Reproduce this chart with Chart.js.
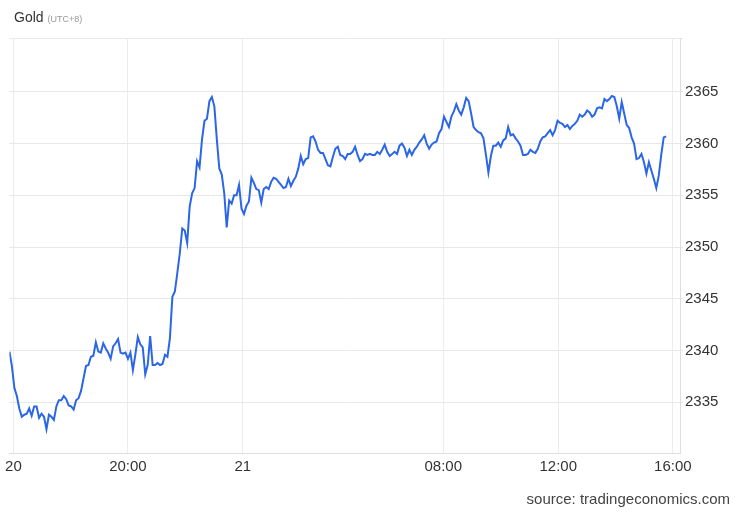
<!DOCTYPE html>
<html>
<head>
<meta charset="utf-8">
<script src="https://cdn.jsdelivr.net/npm/chart.js@4.4.1/dist/chart.umd.min.js"></script>
<style>
    body { margin: 0; background: #fff; font-family: 'Liberation Sans', Arial, sans-serif; }
    #wrap { position: relative; width: 740px; height: 513px; }
    #title { position: absolute; left: 14px; top: 9px; font-size: 14px; color: #333; }
    #title small { font-size: 9px; color: #999; }
    #source { position: absolute; right: 10px; top: 490px; font-size: 15px; color: #444; }
</style>
</head>
<body>
<div id="wrap">
    <canvas id="goldChart" width="740" height="513"></canvas>
    <div id="title">Gold <small>(UTC+8)</small></div>
    <div id="source">source: tradingeconomics.com</div>
</div>
<script>
// gia vang theo thu tu thoi gian (doc tu hinh)
const goldPrices = [
    2339.9, 2338.5, 2336.4, 2335.6, 2334.4, 2333.6, 2333.8, 2333.9, 2334.4, 2333.7,
    2334.6, 2334.6, 2333.5, 2333.9, 2333.6, 2332.4, 2333.8, 2333.6, 2333.3, 2334.6,
    2335.2, 2335.2, 2335.6, 2335.3, 2334.7, 2334.6, 2334.3, 2335.2, 2335.4, 2336.1,
    2337.3, 2338.5, 2338.6, 2339.4, 2339.5, 2340.8, 2339.9, 2339.8, 2340.7, 2340.2,
    2339.8, 2339.2, 2340.4, 2340.7, 2341.1, 2339.8, 2339.7, 2339.8, 2339.2, 2339.8,
    2338.1, 2339.6, 2341.3, 2340.6, 2340.3, 2337.7, 2338.6, 2341.4, 2338.6, 2338.6,
    2338.8, 2338.6, 2338.7, 2339.6, 2339.4, 2341.2, 2345.2, 2345.7, 2347.5, 2349.4,
    2351.8, 2351.6, 2350.4, 2353.9, 2355.2, 2355.7, 2358.3, 2357.7, 2360.4, 2362.2,
    2362.4, 2364.1, 2364.5, 2363.6, 2360.4, 2357.6, 2357.0, 2355.2, 2351.9, 2354.5,
    2354.2, 2355.0, 2355.0, 2356.0, 2353.7, 2353.2, 2354.0, 2354.4, 2356.7, 2356.2,
    2355.6, 2355.5, 2354.3, 2355.6, 2355.8, 2355.6, 2356.3, 2356.7, 2356.6, 2356.3,
    2356.0, 2355.7, 2355.8, 2356.6, 2355.9, 2356.4, 2356.8, 2357.6, 2358.8, 2358.0,
    2358.5, 2358.6, 2360.6, 2360.7, 2360.2, 2359.4, 2359.1, 2359.1, 2358.5, 2357.9,
    2357.8, 2358.7, 2359.5, 2359.7, 2358.9, 2358.8, 2358.5, 2359.0, 2359.0, 2359.2,
    2359.7, 2358.9, 2358.3, 2358.5, 2359.0, 2358.9, 2359.0, 2358.9, 2358.9, 2359.2,
    2359.0, 2359.4, 2359.9, 2359.2, 2358.8, 2359.0, 2359.2, 2359.0, 2359.8, 2360.0,
    2359.6, 2358.8, 2359.4, 2358.9, 2359.4, 2359.7, 2360.1, 2360.4, 2360.8, 2360.0,
    2359.5, 2359.9, 2360.1, 2360.2, 2361.0, 2361.4, 2362.6, 2362.1, 2361.6, 2362.6,
    2363.1, 2363.8, 2363.2, 2362.8, 2363.5, 2364.4, 2364.1, 2362.9, 2361.6, 2361.3,
    2361.1, 2361.0, 2360.5, 2358.9, 2357.2, 2358.8, 2359.8, 2359.8, 2360.1, 2359.7,
    2360.3, 2360.5, 2361.6, 2360.8, 2360.9, 2360.5, 2360.2, 2359.8, 2358.9, 2358.9,
    2359.0, 2359.4, 2359.2, 2359.1, 2359.5, 2360.2, 2360.6, 2360.7, 2361.0, 2361.3,
    2360.8, 2361.3, 2362.2, 2362.0, 2361.9, 2361.6, 2361.8, 2361.4, 2361.7, 2361.9,
    2362.2, 2362.8, 2362.6, 2362.8, 2363.2, 2363.0, 2362.6, 2362.8, 2363.4, 2363.5,
    2363.4, 2364.3, 2364.1, 2364.3, 2364.6, 2364.5, 2363.6, 2362.4, 2364.0, 2362.9,
    2361.8, 2361.5, 2360.6, 2360.0, 2358.5, 2358.6, 2359.0, 2358.2, 2357.1, 2358.2,
    2357.4, 2356.6, 2355.7, 2356.9, 2358.9, 2360.6, 2360.7
];

// vi tri cac moc thoi gian tren truc x (theo so thu tu diem)
const xTickIdx = [1.6, 48, 94.5, 175.7, 222.3, 268.7];
const xTickLabels = ['20', '20:00', '21', '08:00', '12:00', '16:00'];
const xMax = 271.6;

const yTicks = [2335, 2340, 2345, 2350, 2355, 2360, 2365];
const yMin = 2330.1;
const yMax = 2370.2;

const ctx = document.getElementById('goldChart').getContext('2d');

new Chart(ctx, {
    type: 'line',
    data: {
        datasets: [{
            label: 'Gold',
            data: goldPrices.map((v, i) => ({ x: i, y: v })),
            borderColor: '#2b66e6',
            borderWidth: 2,
            pointRadius: 0,
            tension: 0,
            fill: false
        }]
    },
    options: {
        responsive: false,
        animation: false,
        layout: { padding: { left: 8, top: 38, right: 0, bottom: 0 } },
        plugins: {
            legend: { display: false },
            tooltip: { enabled: false }
        },
        scales: {
            x: {
                type: 'linear',
                min: 0,
                max: xMax,
                afterBuildTicks: scale => {
                    scale.ticks = xTickIdx.map(v => ({ value: v }));
                },
                afterFit: scale => { scale.height = 60; },
                ticks: {
                    autoSkip: false,
                    maxRotation: 0,
                    padding: 5,
                    color: '#333',
                    font: { family: "'Liberation Sans', Arial", size: 15 },
                    callback: (val, i) => xTickLabels[i]
                },
                grid: { color: '#ececec', drawTicks: false },
                border: { display: true, color: '#dedede' }
            },
            y: {
                position: 'right',
                min: yMin,
                max: yMax,
                afterBuildTicks: scale => {
                    scale.ticks = yTicks.concat([yMax]).map(v => ({ value: v }));
                },
                afterFit: scale => { scale.width = 60; },
                ticks: {
                    padding: 2,
                    color: '#333',
                    font: { family: "'Liberation Sans', Arial", size: 15 },
                    callback: v => yTicks.includes(v) ? v : ''
                },
                grid: { color: '#e8e8e8', tickLength: 3 },
                border: { display: true, color: '#dedede' }
            }
        }
    }
});
</script>
</body>
</html>
